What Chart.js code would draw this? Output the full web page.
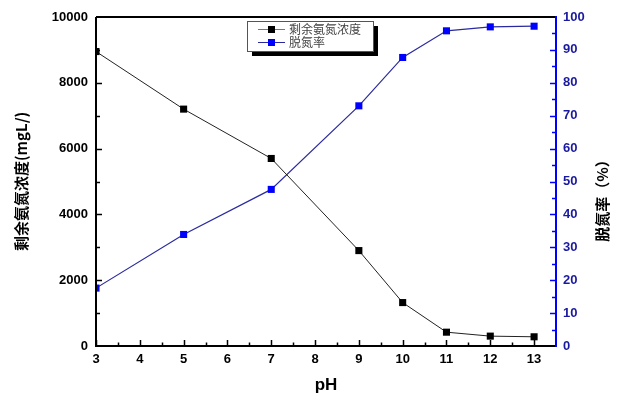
<!DOCTYPE html>
<html><head><meta charset="utf-8">
<script src="https://cdn.jsdelivr.net/npm/chart.js@4/dist/chart.umd.min.js"></script>
<style>html,body{margin:0;padding:0;background:#fff}canvas{display:block}</style>
</head><body>
<canvas id="c" width="619" height="396"></canvas>
<script>
// ---- data ----
const phValues = [3, 5, 7, 9, 10, 11, 12, 13];
const residualAmmonia = [8950, 7200, 5700, 2900, 1320, 420, 300, 280];
const removalRate = [17.6, 33.9, 47.6, 73.0, 87.7, 95.8, 97.0, 97.2];
const xTickLabels = [3, 4, 5, 6, 7, 8, 9, 10, 11, 12, 13];
const leftTickLabels = [0, 2000, 4000, 6000, 8000, 10000];
const rightTickLabels = [0, 10, 20, 30, 40, 50, 60, 70, 80, 90, 100];
const seriesNames = ['剩余氨氮浓度', '脱氮率'];
const axisTitles = { x: 'pH', left: '剩余氨氮浓度(mgL/)', right: '脱氮率（%）' };

const BLUE = '#0000ff';
const NAVY = '#2a2aa0';
const tickFont = { family: '"Liberation Sans", Arial, sans-serif', size: 13, weight: 'bold' };

const ticksPlugin = {
  id: 'innerTicks',
  afterDraw(chart) {
    const ctx = chart.ctx, a = chart.chartArea;
    const x = chart.scales.x, yl = chart.scales.y, yr = chart.scales.y2;
    ctx.save();
    ctx.lineWidth = 1.5;
    // bottom ticks
    ctx.strokeStyle = '#000';
    for (let v = 3; v <= 13.01; v += 0.5) {
      const px = Math.round(x.getPixelForValue(v)) + 0.5;
      const len = Number.isInteger(v) ? 6 : 3.5;
      ctx.beginPath(); ctx.moveTo(px, a.bottom); ctx.lineTo(px, a.bottom - len); ctx.stroke();
    }
    // left ticks
    for (let v = 1000; v < 10000; v += 1000) {
      const py = Math.round(yl.getPixelForValue(v)) + 0.5;
      const len = v % 2000 === 0 ? 6 : 4;
      ctx.beginPath(); ctx.moveTo(a.left, py); ctx.lineTo(a.left + len, py); ctx.stroke();
    }
    // right ticks
    ctx.strokeStyle = BLUE;
    for (let v = 5; v < 100; v += 5) {
      const py = Math.round(yr.getPixelForValue(v)) + 0.5;
      const len = v % 10 === 0 ? 6 : 4;
      ctx.beginPath(); ctx.moveTo(a.right, py); ctx.lineTo(a.right - len, py); ctx.stroke();
    }
    // frame
    ctx.lineWidth = 2;
    ctx.strokeStyle = '#000';
    ctx.beginPath(); ctx.moveTo(a.left, a.top); ctx.lineTo(a.right, a.top); ctx.stroke();
    ctx.beginPath(); ctx.moveTo(a.left, a.top); ctx.lineTo(a.left, a.bottom); ctx.lineTo(a.right, a.bottom); ctx.stroke();
    ctx.strokeStyle = BLUE;
    ctx.beginPath(); ctx.moveTo(a.right, a.top - 1); ctx.lineTo(a.right, a.bottom + 1); ctx.stroke();

    // right axis title (reads bottom-to-top)
    ctx.save();
    ctx.translate(602, 197);
    ctx.rotate(-Math.PI / 2);
    ctx.font = 'bold 15px "Noto Sans CJK SC", sans-serif';
    ctx.fillStyle = '#000';
    ctx.textAlign = 'center';
    ctx.textBaseline = 'middle';
    ctx.fillText(axisTitles.right, 0, 0);
    ctx.restore();

    // legend
    const lx = 247, ly = 21, lw = 126, lh = 30;
    ctx.fillStyle = '#000';
    ctx.fillRect(lx + 5, ly + 5, lw, lh);
    ctx.fillStyle = '#fff';
    ctx.fillRect(lx, ly, lw, lh);
    ctx.lineWidth = 1;
    ctx.strokeStyle = '#555';
    ctx.strokeRect(lx + 0.5, ly + 0.5, lw, lh);
    const cols = ['#000', BLUE], lcols = ['#777', NAVY];
    ctx.font = '12px "Noto Sans CJK SC", sans-serif';
    ctx.textBaseline = 'middle';
    ctx.textAlign = 'left';
    for (let i = 0; i < 2; i++) {
      const yy = ly + 8.5 + i * 13;
      ctx.strokeStyle = lcols[i];
      ctx.beginPath(); ctx.moveTo(258, yy); ctx.lineTo(285, yy); ctx.stroke();
      ctx.fillStyle = cols[i];
      ctx.fillRect(268, yy - 3.5, 7, 7);
      ctx.fillStyle = '#444';
      ctx.fillText(seriesNames[i], 289, yy);
    }
    ctx.restore();
  }
};

new Chart(document.getElementById('c'), {
  type: 'line',
  data: {
    datasets: [
      {
        label: seriesNames[0],
        data: phValues.map((p, i) => ({ x: p, y: residualAmmonia[i] })),
        yAxisID: 'y',
        borderColor: '#222', borderWidth: 1,
        pointStyle: 'rect', pointRadius: 5, pointBackgroundColor: '#000', pointBorderColor: '#000', pointBorderWidth: 0,
        tension: 0
      },
      {
        label: seriesNames[1],
        data: phValues.map((p, i) => ({ x: p, y: removalRate[i] })),
        yAxisID: 'y2',
        borderColor: NAVY, borderWidth: 1.2,
        pointStyle: 'rect', pointRadius: 5, pointBackgroundColor: BLUE, pointBorderColor: BLUE, pointBorderWidth: 0,
        tension: 0
      }
    ]
  },
  options: {
    responsive: false, animation: false, devicePixelRatio: 1,
    layout: { padding: { top: 17, left: 0, right: 0, bottom: 0 } },
    plugins: { legend: { display: false }, tooltip: { enabled: false } },
    scales: {
      x: {
        type: 'linear', min: 3, max: 13.5,
        afterBuildTicks: s => { s.ticks = xTickLabels.map(v => ({ value: v })); },
        afterFit: s => { s.height = 50; },
        grid: { display: false, drawTicks: false },
        border: { display: false },
        ticks: { color: '#000', font: tickFont, padding: 6, maxRotation: 0, autoSkip: false, callback: v => String(v) },
        title: { display: true, text: axisTitles.x, color: '#000',
          font: { family: '"Liberation Sans", Arial, sans-serif', size: 17, weight: 'bold' }, padding: { top: 8, bottom: 0 } }
      },
      y: {
        type: 'linear', position: 'left', min: 0, max: 10000,
        afterBuildTicks: s => { s.ticks = leftTickLabels.map(v => ({ value: v })); },
        afterFit: s => { s.width = 96; },
        grid: { display: false, drawTicks: false },
        border: { display: false },
        ticks: { color: '#000', font: tickFont, padding: 8, callback: v => String(v) },
        title: { display: true, text: axisTitles.left, color: '#000',
          font: { family: '"Noto Sans CJK SC", sans-serif', size: 15, weight: 'bold' }, padding: { top: 12, bottom: 0 } }
      },
      y2: {
        type: 'linear', position: 'right', min: 0, max: 100,
        afterBuildTicks: s => { s.ticks = rightTickLabels.map(v => ({ value: v })); },
        afterFit: s => { s.width = 63; },
        grid: { display: false, drawTicks: false },
        border: { display: false },
        ticks: { color: '#1a1aa0', font: tickFont, padding: 7, callback: v => String(v) },
        title: { display: false }
      }
    }
  },
  plugins: [ticksPlugin]
});
</script>
</body></html>
